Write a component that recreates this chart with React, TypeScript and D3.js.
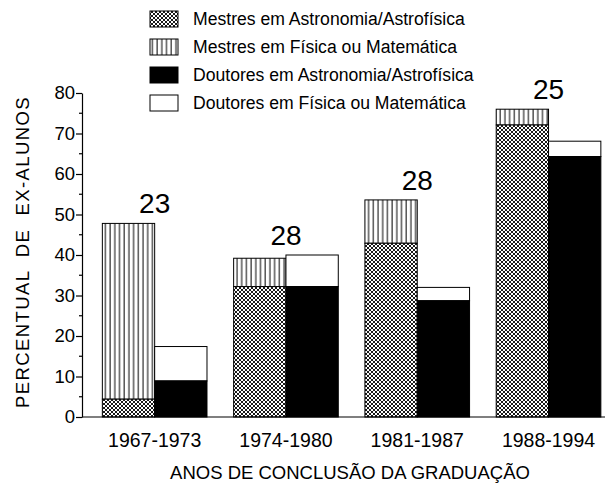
import React, { useEffect, useRef } from "react";
import * as d3 from "d3";

const categories = ["1967-1973", "1974-1980", "1981-1987", "1988-1994"];
// Stacked bar 1 (Mestres): astronomy part, then physics/math part on top
const mestresAstro = [4.4, 32.2, 42.9, 72.1];
const mestresFisMat = [43.4, 7.0, 10.7, 3.9];
// Stacked bar 2 (Doutores)
const doutoresAstro = [8.9, 32.2, 28.7, 64.3];
const doutoresFisMat = [8.5, 7.8, 3.3, 3.8];
const groupCounts = ["23", "28", "28", "25"];
const yTicks = [0, 10, 20, 30, 40, 50, 60, 70, 80];
const yMinorTicks = [5, 15, 25, 35, 45, 55, 65, 75];
const legendLabels = [
  "Mestres em Astronomia/Astrofísica",
  "Mestres em Física ou Matemática",
  "Doutores em Astronomia/Astrofísica",
  "Doutores em Física ou Matemática",
];
const yTitle = "PERCENTUAL  DE  EX-ALUNOS";
const xTitle = "ANOS DE CONCLUSÃO DA GRADUAÇÃO";

const FONT = "'Liberation Sans', Arial, sans-serif";

export default function App() {
  const ref = useRef<SVGSVGElement>(null);

  useEffect(() => {
    const svg = d3.select(ref.current);
    svg.selectAll("*").remove();

    const axisX = 82;
    const y = d3.scaleLinear().domain([0, 80]).range([417, 93]);
    const x = d3.scaleBand<string>().domain(categories).range([axisX, 621.2]).paddingInner(0.203).paddingOuter(0.155);
    const bw = x.bandwidth() / 2;

    const defs = svg.append("defs");
    const s = 4;
    const cross = defs.append("pattern").attr("id", "cross").attr("patternUnits", "userSpaceOnUse")
      .attr("width", s).attr("height", s);
    cross.append("rect").attr("width", s).attr("height", s).attr("fill", "#fff");
    cross.append("path")
      .attr("d", `M-1,-1L${s + 1},${s + 1}M${s - 1},-1L${s + 1},1M-1,${s - 1}L1,${s + 1}M-1,${s + 1}L${s + 1},-1M-1,1L1,-1M${s - 1},${s + 1}L${s + 1},${s - 1}`)
      .attr("stroke", "#000").attr("stroke-width", 0.9);
    const vert = defs.append("pattern").attr("id", "vert").attr("patternUnits", "userSpaceOnUse")
      .attr("width", 4.7).attr("height", 10);
    vert.append("rect").attr("width", 4.7).attr("height", 10).attr("fill", "#fff");
    vert.append("line").attr("x1", 2).attr("x2", 2).attr("y1", 0).attr("y2", 10)
      .attr("stroke", "#000").attr("stroke-width", 1);

    const g = svg.append("g");

    const drawRect = (x0: number, v0: number, v1: number, fill: string) => {
      g.append("rect").attr("x", x0).attr("y", y(v1)).attr("width", bw).attr("height", y(v0) - y(v1))
        .attr("fill", fill).attr("stroke", "#000").attr("stroke-width", 1);
    };

    categories.forEach((c, i) => {
      const x0 = x(c)!;
      drawRect(x0, mestresAstro[i], mestresAstro[i] + mestresFisMat[i], "url(#vert)");
      drawRect(x0, 0, mestresAstro[i], "url(#cross)");
      drawRect(x0 + bw, doutoresAstro[i], doutoresAstro[i] + doutoresFisMat[i], "#fff");
      drawRect(x0 + bw, 0, doutoresAstro[i], "#000");
      const top = Math.max(mestresAstro[i] + mestresFisMat[i], doutoresAstro[i] + doutoresFisMat[i]);
      g.append("text").attr("x", x0 + bw).attr("y", y(top) - 10).attr("text-anchor", "middle")
        .attr("font-family", FONT).attr("font-size", 28).text(groupCounts[i]);
    });

    // baseline
    svg.append("line").attr("x1", axisX).attr("x2", 605).attr("y1", y(0)).attr("y2", y(0))
      .attr("stroke", "#000").attr("stroke-width", 1.2);

    // y axis
    const ya = svg.append("g").attr("transform", `translate(${axisX},0)`)
      .call(d3.axisLeft(y).tickValues(yTicks).tickSize(6).tickSizeOuter(0).tickPadding(1));
    ya.select(".domain").attr("stroke-width", 1.2);
    ya.selectAll(".tick line").attr("stroke-width", 1.2);
    ya.selectAll("text").attr("font-family", FONT).attr("font-size", 18.5).attr("fill", "#000");
    ya.selectAll(".minor").data(yMinorTicks).enter().append("line").attr("class", "minor")
      .attr("x1", -3).attr("x2", 0).attr("y1", (d) => y(d)).attr("y2", (d) => y(d))
      .attr("stroke", "#000").attr("stroke-width", 1.2);

    // x tick labels
    svg.append("g").selectAll("text").data(categories).enter().append("text")
      .attr("x", (d) => x(d)! + x.bandwidth() / 2).attr("y", 447).attr("text-anchor", "middle")
      .attr("font-family", FONT).attr("font-size", 19.5).text((d) => d);

    // titles
    svg.append("text").attr("x", 350).attr("y", 479).attr("text-anchor", "middle")
      .attr("font-family", FONT).attr("font-size", 18.5).text(xTitle);
    svg.append("text").attr("transform", "translate(29,252) rotate(-90)").attr("text-anchor", "middle")
      .attr("font-family", FONT).attr("font-size", 18.5).attr("letter-spacing", 1.4)
      .style("white-space", "pre").text(yTitle);

    // legend
    const fills = ["url(#cross)", "url(#vert)", "#000", "#fff"];
    const lg = svg.append("g");
    legendLabels.forEach((l, i) => {
      const cy = 19 + i * 28;
      lg.append("rect").attr("x", 150).attr("y", cy - 8).attr("width", 28).attr("height", 16)
        .attr("fill", fills[i]).attr("stroke", "#000").attr("stroke-width", 1);
      lg.append("text").attr("x", 193).attr("y", cy + 6).attr("font-family", FONT).attr("font-size", 17.6).text(l);
    });
  }, []);

  return <svg ref={ref} width={611} height={488} style={{ display: "block", position: "absolute", left: 0, top: 0 }} />;
}
